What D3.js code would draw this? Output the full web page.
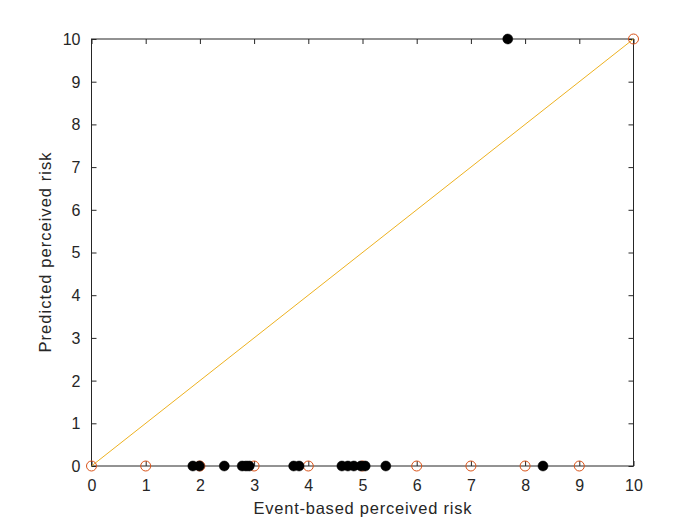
<!DOCTYPE html>
<html><head><meta charset="utf-8">
<script src="https://cdn.jsdelivr.net/npm/d3@7"></script>
<style>body{margin:0;background:#fff}svg{display:block}</style>
</head><body>
<script>
const refX = [0,1,2,3,4,5,6,7,8,9,10];
const refY = [0,0,0,0,0,0,0,0,0,0,10];
const obsX = [1.87,1.99,2.45,2.78,2.85,2.91,3.73,3.83,4.62,4.73,4.84,4.97,5.05,5.43,7.68,8.33];
const obsY = [0,0,0,0,0,0,0,0,0,0,0,0,0,0,10,0];
const lineX = [0,10];
const lineY = [0,10];
const ticks = [0,1,2,3,4,5,6,7,8,9,10];
const xLabel = "Event-based perceived risk";
const yLabel = "Predicted perceived risk";

const W=700,H=525, L=91.5, R=633.5, T=39, B=466;
const svg=d3.select("body").append("svg").attr("width",W).attr("height",H)
  .style("font-family","Arial, 'Liberation Sans', Helvetica, sans-serif");
const x=d3.scaleLinear().domain([0,10]).range([L,R]);
const y=d3.scaleLinear().domain([0,10]).range([B,T]);
const ax="#262626";

svg.append("rect").attr("x",L).attr("y",T).attr("width",R-L).attr("height",B-T)
  .attr("fill","none").attr("stroke",ax).attr("stroke-width",1);

function styleAxis(g){g.select(".domain").remove();g.selectAll("line").attr("stroke",ax);
  g.selectAll("text").attr("fill",ax).style("font-size","16px");}
const gb=svg.append("g").attr("transform",`translate(0,${B})`)
  .call(d3.axisBottom(x).tickValues(ticks).tickFormat(d3.format("d")).tickSizeInner(-5)).call(styleAxis);
gb.selectAll("text").attr("y",25).attr("dy",null);
svg.append("g").attr("transform",`translate(0,${T})`)
  .call(d3.axisTop(x).tickValues(ticks).tickFormat("").tickSizeInner(-5)).call(styleAxis);
const gl=svg.append("g").attr("transform",`translate(${L},0)`)
  .call(d3.axisLeft(y).tickValues(ticks).tickFormat(d3.format("d")).tickSizeInner(-5)).call(styleAxis);
gl.selectAll("text").attr("x",-11).attr("dy","0.34em");
svg.append("g").attr("transform",`translate(${R},0)`)
  .call(d3.axisRight(y).tickValues(ticks).tickFormat("").tickSizeInner(-5)).call(styleAxis);

svg.append("path").datum(lineX.map((d,i)=>[d,lineY[i]]))
  .attr("d",d3.line().x(d=>x(d[0])).y(d=>y(d[1])))
  .attr("stroke","#EDB120").attr("stroke-width",1).attr("fill","none");

svg.append("g").selectAll("circle").data(refX.map((d,i)=>[d,refY[i]])).join("circle")
  .attr("cx",d=>x(d[0])).attr("cy",d=>y(d[1])).attr("r",5)
  .attr("fill","none").attr("stroke","#D95319").attr("stroke-width",1);

svg.append("g").selectAll("circle").data(obsX.map((d,i)=>[d,obsY[i]])).join("circle")
  .attr("cx",d=>x(d[0])).attr("cy",d=>y(d[1])).attr("r",5)
  .attr("fill","#000").attr("stroke","#000").attr("stroke-width",0.5);

svg.append("text").attr("x",(L+R)/2).attr("y",514).attr("text-anchor","middle")
  .attr("fill",ax).style("font-size","16.5px").attr("textLength",218).attr("lengthAdjust","spacing").text(xLabel);
svg.append("text").attr("transform",`translate(51,${(T+B)/2}) rotate(-90)`).attr("text-anchor","middle")
  .attr("fill",ax).style("font-size","16.5px").attr("textLength",200).attr("lengthAdjust","spacing").text(yLabel);
</script>
</body></html>
